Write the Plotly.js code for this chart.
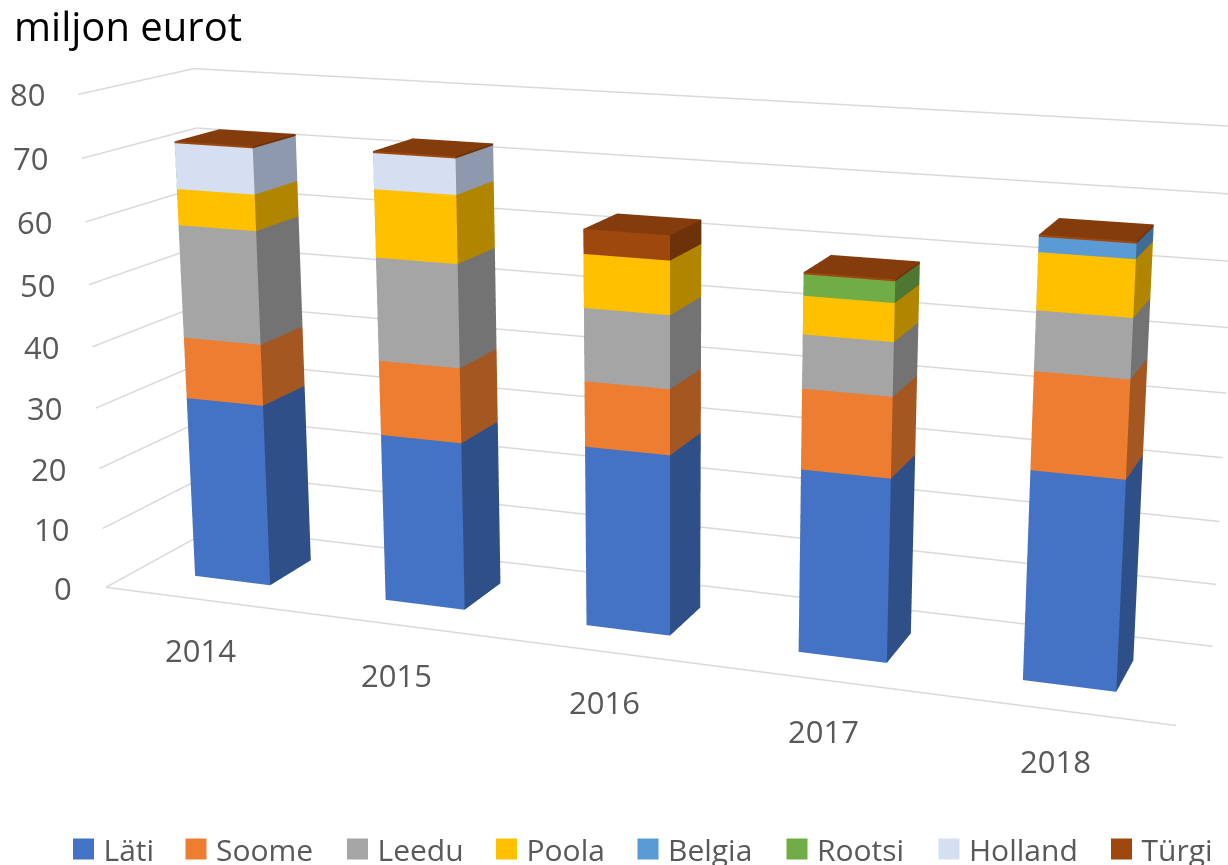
<!DOCTYPE html>
<html><head><meta charset="utf-8">
<script src="https://cdn.plot.ly/plotly-3.0.1.min.js"></script>
<style>html,body{margin:0;padding:0;width:1228px;height:865px;overflow:hidden;background:#fff}
#c{position:absolute;left:-2px;top:-683px;width:1530px;height:2080px}</style></head>
<body><div id="c"></div>
<script>
const years=["2014","2015","2016","2017","2018"];
const lati=[30.1,27.3,28.8,28.7,32.1];
const soome=[10,12,10.3,12.4,14.7];
const leedu=[18.3,16.4,11.4,8.2,8.9];
const poola=[5.8,10.7,8.3,5.8,8.4];
const belgia=[0,0,0,0,2.2];
const rootsi=[0,0,0,3.2,0];
const holland=[7.3,5.6,0,0,0];
const turgi=[0.3,0.3,3.8,0.3,0.3];
const names=["Läti","Soome","Leedu","Poola","Belgia","Rootsi","Holland","Türgi"];
const series=[lati,soome,leedu,poola,belgia,rootsi,holland,turgi];
const front=["#4472C4","#ED7D31","#A5A5A5","#FFC000","#5B9BD5","#70AD47","#D6DFF1","#9E480E"];
const side=["#2F4F88","#A55722","#737373","#B28500","#3F6C94","#4E7831","#8E99AE","#6E320A"];
const top_=["#3A62A8","#CB6B2A","#8E8E8E","#DBA500","#4E85B7","#60953D","#B8C0CF","#843C0C"];
const ticks=[0,10,20,30,40,50,60,70,80];
const legendCenters=[86,198.5,360,509,650.5,799.5,951.5,1124];
const halfW=0.2, halfD=0.2;
const W=1530,H=2080,TOP=683;

const base=years.map(()=>0);
const traces=[];
series.forEach((vals,s)=>{
  const x=[],y=[],z=[],i=[],j=[],k=[],fc=[];
  vals.forEach((v,c)=>{
    if(!v){return;}
    const n=x.length, z0=base[c], z1=z0+v; base[c]=z1;
    [[-1,-1,z0],[1,-1,z0],[1,1,z0],[-1,1,z0],[-1,-1,z1],[1,-1,z1],[1,1,z1],[-1,1,z1]].forEach(p=>{
      x.push(c+p[0]*halfW); y.push(p[1]*halfD); z.push(p[2]);
    });
    const quad=(a,b,d,e,col)=>{i.push(n+a,n+a);j.push(n+b,n+d);k.push(n+d,n+e);fc.push(col,col);};
    quad(0,1,5,4,front[s]); quad(1,2,6,5,side[s]); quad(4,5,6,7,top_[s]);
    quad(2,3,7,6,side[s]); quad(3,0,4,7,side[s]); quad(0,1,2,3,side[s]);
  });
  traces.push({type:'mesh3d',x,y,z,i,j,k,facecolor:fc,flatshading:true,showscale:false,hoverinfo:'skip',
    lighting:{ambient:1,diffuse:0,specular:0,fresnel:0,roughness:1},name:names[s],showlegend:false});
});
const gx=[],gy=[],gz=[];
ticks.forEach(t=>{
  const zv=Math.min(Math.max(t,0.05),79.95);
  gx.push(-0.499,-0.499,4.499,null); gy.push(-0.495,0.495,0.495,null); gz.push(zv,zv,zv,null);
});
gx.push(-0.499,4.499); gy.push(-0.495,-0.495); gz.push(0.05,0.05);
traces.push({type:'scatter3d',mode:'lines',x:gx,y:gy,z:gz,line:{color:'#d9d9d9',width:3},hoverinfo:'skip',showlegend:false,name:'grid'});

const layout={width:W,height:H,margin:{l:0,r:0,t:0,b:0,pad:0},paper_bgcolor:'#fff',plot_bgcolor:'#fff',
  xaxis:{visible:false},yaxis:{visible:false},showlegend:true};
names.forEach((n,s)=>{
  const key=s?('legend'+(s+1)):'legend';
  traces.push({type:'scatter',mode:'markers',x:[null],y:[null],name:n,legend:key,
    marker:{symbol:'square',size:16,color:front[s],line:{color:front[s],width:5}},showlegend:true});
  layout[key]={orientation:'h',x:(legendCenters[s]-20.5)/W,xanchor:'left',y:1-(849+TOP)/H,yanchor:'middle',
    font:{family:'Open Sans',size:30,color:'#595959'},itemwidth:30,bgcolor:'rgba(0,0,0,0)',itemclick:false,itemdoubleclick:false};
});

const hiddenAxis=r=>({range:r,showgrid:false,zeroline:false,showticklabels:false,showline:false,ticks:'',
  title:{text:''},showspikes:false,showbackground:false,autorange:false});
const tickFont={family:'Open Sans',size:31,color:'#595959'};
const ann=[];
ticks.forEach(t=>ann.push({x:-0.5,y:-0.5,z:t,text:String(t),showarrow:false,xanchor:'right',xshift:-31,font:tickFont}));
years.forEach((yr,c)=>ann.push({x:c,y:-0.5,z:0,text:yr,showarrow:false,xshift:1,yshift:-50,font:tickFont}));

layout.annotations=[{xref:'paper',yref:'paper',x:14/W,y:1-(25+TOP)/H,xanchor:'left',yanchor:'middle',showarrow:false,
    text:'miljon eurot',font:{family:'Open Sans',size:40,color:'#000'}}];
layout.scene={domain:{x:[0,1],y:[0,1]},aspectmode:'manual',aspectratio:{x:2.163,y:0.426,z:1},
    camera:{eye:{x:1.69,y:-4.3555,z:1.1701},center:{x:0.2154,y:0.078,z:0.0249},up:{x:-0.0839,y:0.2228,z:0.9712}},
    xaxis:hiddenAxis([-0.5,4.5]),yaxis:hiddenAxis([-0.5,0.5]),
    zaxis:hiddenAxis([0,80]),
    annotations:ann};
Plotly.newPlot('c',traces,layout,{displayModeBar:false,responsive:false});
</script></body></html>
